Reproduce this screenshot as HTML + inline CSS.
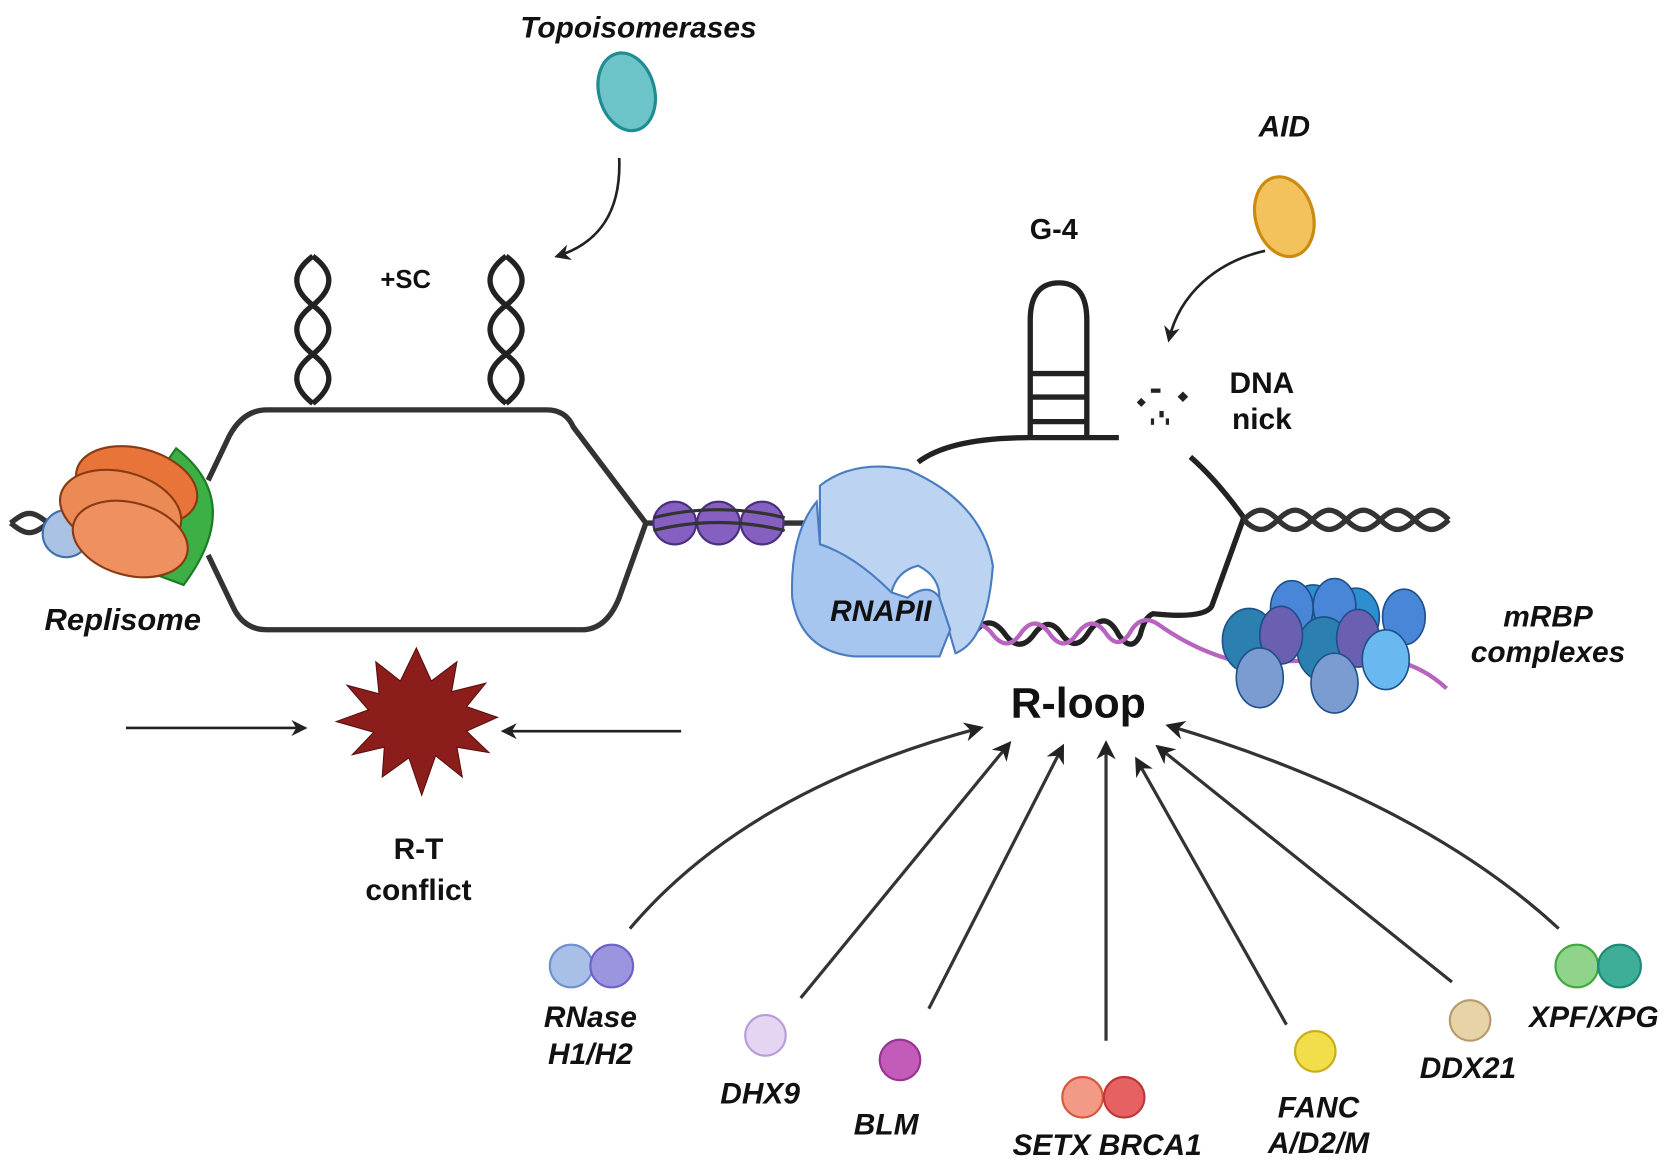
<!DOCTYPE html>
<html><head><meta charset="utf-8"><style>
html,body{margin:0;padding:0;background:#fff}
svg{display:block}
text{font-family:"Liberation Sans",sans-serif;font-weight:bold;fill:#111}
.it{font-style:italic}
</style></head><body>
<svg width="1674" height="1172" viewBox="0 0 1568 1098" preserveAspectRatio="none" xmlns="http://www.w3.org/2000/svg">
<defs>
<marker id="ah" viewBox="0 0 10 10" refX="8" refY="5" markerWidth="6" markerHeight="6" orient="auto"><path d="M0,0 L10,5 L0,10 L3,5 z" fill="#222"/></marker>
</defs>

<!-- Topoisomerases -->
<text x="598" y="35" font-size="28" text-anchor="middle" class="it">Topoisomerases</text>
<ellipse cx="587" cy="86" rx="26" ry="37" transform="rotate(-15 587 86)" fill="#6cc3c8" stroke="#1e8d92" stroke-width="3"/>
<path d="M580,148 C582,200 560,228 522,240" fill="none" stroke="#222" stroke-width="2.5" marker-end="url(#ah)"/>

<!-- supercoils -->
<g fill="none" stroke="#222" stroke-width="5">
<path d="M293,240 c-20,15 -20,30 0,46 c20,15 20,30 0,46 c-20,15 -20,30 0,46"/>
<path d="M293,240 c20,15 20,30 0,46 c-20,15 -20,30 0,46 c20,15 20,30 0,46"/>
<path d="M474,240 c-20,15 -20,30 0,46 c20,15 20,30 0,46 c-20,15 -20,30 0,46"/>
<path d="M474,240 c20,15 20,30 0,46 c-20,15 -20,30 0,46 c20,15 20,30 0,46"/>
</g>
<text x="380" y="270" font-size="24" text-anchor="middle">+SC</text>

<!-- replication bubble -->
<g fill="none" stroke="#333" stroke-width="5">
<path d="M195,450 L215,408 Q228,384 250,384 L512,384 Q530,384 537,400 L605,490 L580,560 Q568,590 545,590 L250,590 Q228,590 218,568 L195,520"/>
<path d="M10,490 c15,-12 20,-12 35,0 c15,12 20,12 35,0 c15,-12 20,-12 35,0"/>
<path d="M10,490 c15,12 20,12 35,0 c15,-12 20,-12 35,0 c15,12 20,12 35,0"/>
<path d="M605,490 L770,490"/>
</g>
<!-- replisome -->
<circle cx="62" cy="500" r="22" fill="#a9c1e2" stroke="#3e6fae" stroke-width="2"/>
<path d="M165,420 Q230,470 172,548 L145,538 Q190,475 158,430 z" fill="#3cb044" stroke="#1d7a25" stroke-width="2"/>
<ellipse cx="128" cy="455" rx="58" ry="35" transform="rotate(15 128 455)" fill="#e8743a" stroke="#8a3a12" stroke-width="2"/>
<ellipse cx="113" cy="478" rx="58" ry="36" transform="rotate(15 113 478)" fill="#ec8a55" stroke="#8a3a12" stroke-width="2"/>
<ellipse cx="122" cy="505" rx="55" ry="34" transform="rotate(15 122 505)" fill="#ef9060" stroke="#8a3a12" stroke-width="2"/>
<text x="115" y="590" font-size="29" text-anchor="middle" class="it">Replisome</text>

<!-- nucleosomes -->
<g stroke="#4a2f80" stroke-width="2" fill="#8660c0">
<circle cx="632" cy="490" r="20"/><circle cx="673" cy="490" r="20"/><circle cx="714" cy="490" r="20"/>
</g>
<path d="M612,485 Q672,470 735,485 M612,497 Q672,482 735,497" stroke="#333" stroke-width="3" fill="none"/>

<!-- transcription bubble -->
<g fill="none" stroke="#222" stroke-width="5">
<path d="M860,433 Q890,410 965,410 L1048,410"/>
<path d="M965,410 L965,300 Q965,265 992,265 Q1018,265 1018,300 L1018,410"/>
<path d="M965,350 L1018,350 M965,372 L1018,372 M965,395 L1018,395"/>
<path d="M1115,428 Q1140,450 1165,485"/>
<path d="M1165,485 L1135,568 Q1128,580 1080,575 Q1072,578 1068,595 Q1060,612 1048,595 Q1035,570 1020,592 Q1008,612 995,595 Q982,575 968,595 Q955,612 942,595 Q928,575 915,590 L905,585"/>
<path d="M1165,487 c12,-12 20,-12 32,0 c12,12 20,12 32,0 c12,-12 20,-12 32,0 c12,12 20,12 32,0 c12,-12 20,-12 32,0 c12,12 20,12 32,0" stroke="#333"/>
<path d="M1165,487 c12,12 20,12 32,0 c12,-12 20,-12 32,0 c12,12 20,12 32,0 c12,-12 20,-12 32,0 c12,12 20,12 32,0 c12,-12 20,-12 32,0" stroke="#333"/>
</g>
<path d="M903,590 Q915,578 928,592 Q942,612 955,595 Q968,575 982,592 Q995,612 1008,595 Q1022,575 1035,592 Q1048,612 1060,590 Q1070,575 1085,585 Q1120,610 1160,620 L1300,618 Q1330,622 1355,645" fill="none" stroke="#b863c0" stroke-width="4"/>
<!-- nick marks -->
<g fill="#222"><rect x="1066" y="374" width="6" height="6" transform="rotate(45 1069 377)"/><rect x="1105" y="368" width="7" height="7" transform="rotate(45 1108 371)"/><rect x="1078" y="364" width="9" height="4"/><rect x="1086" y="385" width="4" height="6"/><rect x="1078" y="392" width="3" height="6"/><rect x="1092" y="392" width="3" height="6"/></g>
<text x="987" y="224" font-size="27" text-anchor="middle">G-4</text>
<text x="1182" y="368" font-size="28" text-anchor="middle">DNA</text>
<text x="1182" y="402" font-size="28" text-anchor="middle">nick</text>

<!-- AID -->
<text x="1203" y="128" font-size="28" text-anchor="middle" class="it">AID</text>
<ellipse cx="1203" cy="203" rx="27" ry="38" transform="rotate(-15 1203 203)" fill="#f3c25c" stroke="#cc8a10" stroke-width="3"/>
<path d="M1185,235 C1140,245 1105,275 1095,318" fill="none" stroke="#222" stroke-width="2.5" marker-end="url(#ah)"/>

<!-- RNAPII -->
<path d="M768,455 Q800,430 850,440 Q920,470 930,530 Q925,600 895,612 L880,560 Q880,540 860,530 Q840,535 835,555 L815,548 Q790,515 768,510 z" fill="#bcd3f2" stroke="#4a7cc0" stroke-width="2"/>
<path d="M765,470 Q740,500 742,560 Q750,610 800,615 L880,615 L890,590 L880,560 Q870,545 850,560 L835,555 Q800,520 768,510 z" fill="#a6c6f0" stroke="#4a7cc0" stroke-width="2"/>
<text x="825" y="582" font-size="28" text-anchor="middle" class="it">RNAPII</text>

<!-- mRBP -->
<g stroke="#1d4f8a" stroke-width="1.5">
<ellipse cx="1230" cy="575" rx="22" ry="27" fill="#2d8fd0"/><ellipse cx="1270" cy="578" rx="22" ry="27" fill="#2d8fd0"/>
<ellipse cx="1210" cy="570" rx="20" ry="26" fill="#4a86d8"/><ellipse cx="1250" cy="568" rx="20" ry="26" fill="#4a86d8"/><ellipse cx="1315" cy="578" rx="20" ry="26" fill="#4a86d8"/>
<ellipse cx="1170" cy="600" rx="25" ry="30" fill="#2b80b0"/><ellipse cx="1240" cy="608" rx="25" ry="30" fill="#2b80b0"/>
<ellipse cx="1200" cy="595" rx="20" ry="27" fill="#6a5fb0"/><ellipse cx="1272" cy="598" rx="20" ry="27" fill="#6a5fb0"/>
<ellipse cx="1298" cy="618" rx="22" ry="28" fill="#6ab8f0"/>
<ellipse cx="1180" cy="635" rx="22" ry="28" fill="#7a9cd0"/><ellipse cx="1250" cy="640" rx="22" ry="28" fill="#7a9cd0"/>
</g>
<text x="1450" y="587" font-size="28" text-anchor="middle" class="it">mRBP</text>
<text x="1450" y="620" font-size="28" text-anchor="middle" class="it">complexes</text>

<text x="1010" y="672" font-size="40" text-anchor="middle">R-loop</text>

<!-- R-T conflict -->
<polygon fill="#8b1d1a" stroke="#5a0f0f" stroke-width="1" points="390,607 404,638 428,620 423,648 455,640 437,662 466,672 437,685 458,705 428,700 433,728 408,708 395,745 383,710 358,728 360,700 330,707 350,686 315,676 345,665 325,642 355,650 352,620 375,638"/>
<line x1="118" y1="682" x2="285" y2="682" stroke="#222" stroke-width="2.5" marker-end="url(#ah)"/>
<line x1="638" y1="685" x2="472" y2="685" stroke="#222" stroke-width="2.5" marker-end="url(#ah)"/>
<text x="392" y="805" font-size="28" text-anchor="middle">R-T</text>
<text x="392" y="843" font-size="28" text-anchor="middle">conflict</text>

<!-- factor arrows -->
<g fill="none" stroke="#333" stroke-width="3" marker-end="url(#ah)">
<path d="M590,870 Q700,740 918,682"/>
<path d="M750,935 L945,697"/>
<path d="M870,945 L995,700"/>
<path d="M1036,975 L1036,697"/>
<path d="M1205,960 L1065,712"/>
<path d="M1360,920 L1085,700"/>
<path d="M1460,870 Q1330,750 1095,680"/>
</g>

<!-- factors -->
<circle cx="535" cy="905" r="20" fill="#a8bfe8" stroke="#6e8fd0" stroke-width="2"/>
<circle cx="573" cy="905" r="20" fill="#9b94de" stroke="#6e62c8" stroke-width="2"/>
<text x="553" y="962" font-size="28" text-anchor="middle" class="it">RNase</text>
<text x="553" y="997" font-size="28" text-anchor="middle" class="it">H1/H2</text>
<circle cx="717" cy="970" r="19" fill="#e4d6f2" stroke="#b79bd8" stroke-width="2"/>
<text x="712" y="1034" font-size="28" text-anchor="middle" class="it">DHX9</text>
<circle cx="843" cy="993" r="19" fill="#c35bb8" stroke="#97338f" stroke-width="2"/>
<text x="830" y="1063" font-size="28" text-anchor="middle" class="it">BLM</text>
<circle cx="1014" cy="1028" r="19" fill="#f29a85" stroke="#d9573e" stroke-width="2"/>
<circle cx="1053" cy="1028" r="19" fill="#e66262" stroke="#c03535" stroke-width="2"/>
<text x="1037" y="1082" font-size="28" text-anchor="middle" class="it">SETX  BRCA1</text>
<circle cx="1232" cy="985" r="19" fill="#f2dd4a" stroke="#c7ad18" stroke-width="2"/>
<text x="1235" y="1047" font-size="28" text-anchor="middle" class="it">FANC</text>
<text x="1235" y="1080" font-size="28" text-anchor="middle" class="it">A/D2/M</text>
<circle cx="1377" cy="956" r="19" fill="#e7d3a7" stroke="#b59b6c" stroke-width="2"/>
<text x="1375" y="1010" font-size="28" text-anchor="middle" class="it">DDX21</text>
<circle cx="1477" cy="905" r="20" fill="#8fd48a" stroke="#3daa3a" stroke-width="2"/>
<circle cx="1517" cy="905" r="20" fill="#3fae98" stroke="#1d8a76" stroke-width="2"/>
<text x="1493" y="962" font-size="28" text-anchor="middle" class="it">XPF/XPG</text>
</svg>
</body></html>
